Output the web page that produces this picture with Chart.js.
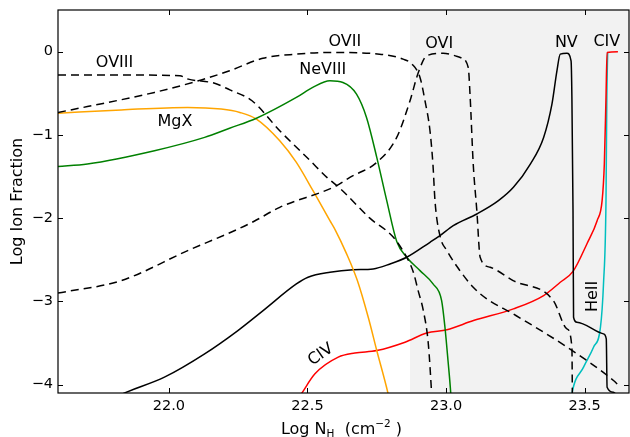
<!DOCTYPE html>
<html>
<head>
<meta charset="utf-8">
<script src="https://cdn.jsdelivr.net/npm/chart.js@4.4.1/dist/chart.umd.min.js"></script>
<style>
  html, body { margin: 0; padding: 0; background: #fff; }
  #wrap { width: 630px; height: 437px; }
</style>
</head>
<body>
<div id="wrap"><canvas id="myChart" width="630" height="437"></canvas></div>
<script>
// axis ticks
const xTicks = [22.0, 22.5, 23.0, 23.5];
const yTicks = [-4, -3, -2, -1, 0];

// ion fraction curves (x = log N_H, y = log ion fraction)
const oviiiX = [21.60, 21.82, 22.04, 22.07, 22.165, 22.22, 22.30, 22.40, 22.51, 22.57, 22.62, 22.725, 22.81, 22.858, 22.882, 22.90, 22.918, 22.936, 22.948, 22.952];
const oviiiY = [-0.28, -0.28, -0.29, -0.33, -0.38, -0.46, -0.59, -0.95, -1.31, -1.51, -1.65, -2.00, -2.23, -2.47, -2.65, -2.88, -3.11, -3.51, -4.11, -4.35];

const oviiX = [21.60, 21.706, 21.948, 22.117, 22.219, 22.339, 22.46, 22.58, 22.76, 22.845, 22.877, 22.906, 22.924, 22.942, 22.953, 22.96, 22.978, 23.003, 23.05, 23.098, 23.147, 23.242, 23.437, 23.604, 23.62];
const oviiY = [-0.73, -0.66, -0.49, -0.34, -0.23, -0.08, -0.03, -0.01, -0.03, -0.09, -0.15, -0.31, -0.59, -0.95, -1.37, -1.79, -2.21, -2.39, -2.63, -2.83, -2.97, -3.15, -3.55, -3.95, -4.00];

const oviX = [21.60, 21.828, 22.068, 22.23, 22.306, 22.40, 22.605, 22.653, 22.75, 22.822, 22.87, 22.899, 22.93, 22.989, 23.051, 23.08, 23.087, 23.098, 23.111, 23.123, 23.159, 23.242, 23.387, 23.436, 23.454, 23.456];
const oviY = [-2.90, -2.75, -2.39, -2.16, -2.04, -1.87, -1.61, -1.51, -1.33, -1.03, -0.59, -0.26, -0.05, -0.02, -0.07, -0.19, -0.55, -1.35, -1.91, -2.47, -2.59, -2.75, -2.99, -3.33, -3.55, -4.30];

const neviiiX = [21.60, 21.706, 21.948, 22.129, 22.219, 22.316, 22.46, 22.519, 22.581, 22.628, 22.677, 22.713, 22.75, 22.786, 22.822, 22.858, 22.906, 22.953, 22.984, 22.996, 23.007, 23.017, 23.02];
const neviiiY = [-1.38, -1.35, -1.19, -1.03, -0.92, -0.80, -0.55, -0.43, -0.35, -0.37, -0.51, -0.79, -1.27, -1.79, -2.28, -2.47, -2.63, -2.79, -2.99, -3.31, -3.71, -4.11, -4.30];

const mgxX = [21.60, 21.828, 22.068, 22.189, 22.256, 22.316, 22.40, 22.46, 22.52, 22.581, 22.60, 22.64, 22.68, 22.72, 22.75, 22.791, 22.80];
const mgxY = [-0.74, -0.70, -0.67, -0.69, -0.73, -0.81, -1.07, -1.33, -1.67, -2.03, -2.14, -2.42, -2.75, -3.20, -3.59, -4.11, -4.25];

const nvX = [21.786, 21.833, 21.984, 22.129, 22.249, 22.34, 22.46, 22.502, 22.581, 22.665, 22.737, 22.798, 22.858, 22.942, 22.978, 23.026, 23.111, 23.189, 23.243, 23.304, 23.352, 23.382, 23.40, 23.412, 23.436, 23.451, 23.454, 23.458, 23.460, 23.472, 23.568, 23.578, 23.581, 23.604, 23.62];
const nvY = [-4.19, -4.11, -3.91, -3.63, -3.35, -3.11, -2.79, -2.71, -2.65, -2.62, -2.61, -2.55, -2.47, -2.29, -2.21, -2.09, -1.95, -1.79, -1.63, -1.35, -1.03, -0.63, -0.23, -0.03, -0.02, -0.11, -0.55, -1.91, -3.19, -3.25, -3.39, -3.45, -4.03, -4.09, -4.15];

const civX = [22.461, 22.478, 22.527, 22.611, 22.671, 22.75, 22.852, 22.93, 23.003, 23.099, 23.243, 23.352, 23.412, 23.458, 23.508, 23.545, 23.563, 23.571, 23.577, 23.581, 23.62];
const civY = [-4.19, -4.11, -3.87, -3.67, -3.62, -3.59, -3.49, -3.38, -3.34, -3.23, -3.09, -2.93, -2.77, -2.64, -2.31, -2.03, -1.79, -1.35, -0.55, -0.01, 0.0];

const heiiX = [23.449, 23.454, 23.496, 23.532, 23.557, 23.568, 23.577, 23.580, 23.583];
const heiiY = [-4.25, -4.11, -3.79, -3.55, -3.31, -2.79, -1.79, -0.55, -0.01];

// grey band starts here and runs to the right edge
const shadeStart = 22.87;

// curve names placed on the plot
const curveLabels = [
  { text: 'OVIII', x: 21.804, y: -0.14, rot: 0 },
  { text: 'MgX', x: 22.022, y: -0.84, rot: 0 },
  { text: 'NeVIII', x: 22.555, y: -0.22, rot: 0 },
  { text: 'OVII', x: 22.635, y: 0.12, rot: 0 },
  { text: 'OVI', x: 22.975, y: 0.09, rot: 0 },
  { text: 'NV', x: 23.434, y: 0.11, rot: 0 },
  { text: 'CIV', x: 23.580, y: 0.12, rot: 0 },
  { text: 'CIV', x: 22.548, y: -3.64, rot: -35 },
  { text: 'HeII', x: 23.531, y: -2.94, rot: -90 }
];

const FONT = "'DejaVu Sans', sans-serif";

function toPoints(xs, ys) {
  return xs.map((x, i) => ({ x: x, y: ys[i] }));
}

const series = [
  { name: 'OVIII', xs: oviiiX, ys: oviiiY, color: '#000000', dash: [8, 5] },
  { name: 'OVII', xs: oviiX, ys: oviiY, color: '#000000', dash: [8, 5] },
  { name: 'OVI', xs: oviX, ys: oviY, color: '#000000', dash: [8, 5] },
  { name: 'NeVIII', xs: neviiiX, ys: neviiiY, color: '#008000', dash: [] },
  { name: 'MgX', xs: mgxX, ys: mgxY, color: '#ffa500', dash: [] },
  { name: 'NV', xs: nvX, ys: nvY, color: '#000000', dash: [] },
  { name: 'CIV', xs: civX, ys: civY, color: '#ff0000', dash: [] },
  { name: 'HeII', xs: heiiX, ys: heiiY, color: '#00bfbf', dash: [] }
];

// grey band behind the curves
const shadePlugin = {
  id: 'shade',
  beforeDatasetsDraw(chart) {
    const { ctx, chartArea: a, scales: { x } } = chart;
    const left = x.getPixelForValue(shadeStart);
    ctx.save();
    ctx.fillStyle = '#f2f2f2';
    ctx.fillRect(left, a.top, a.right - left, a.bottom - a.top);
    ctx.restore();
  }
};

// inward ticks on all four sides, box, curve names, x title
const framePlugin = {
  id: 'frame',
  afterDraw(chart) {
    const { ctx, chartArea: a, scales: { x, y } } = chart;
    ctx.save();
    ctx.strokeStyle = '#000';
    ctx.lineWidth = 1;
    ctx.beginPath();
    xTicks.forEach(v => {
      const px = Math.round(x.getPixelForValue(v)) + 0.5;
      ctx.moveTo(px, a.bottom); ctx.lineTo(px, a.bottom - 5);
      ctx.moveTo(px, a.top); ctx.lineTo(px, a.top + 5);
    });
    yTicks.forEach(v => {
      const py = Math.round(y.getPixelForValue(v)) + 0.5;
      ctx.moveTo(a.left, py); ctx.lineTo(a.left + 5, py);
      ctx.moveTo(a.right, py); ctx.lineTo(a.right - 5, py);
    });
    ctx.stroke();
    ctx.lineWidth = 1.2;
    ctx.strokeRect(a.left, a.top, a.right - a.left, a.bottom - a.top);

    // curve names
    ctx.fillStyle = '#000';
    ctx.font = '16px ' + FONT;
    ctx.textAlign = 'center';
    ctx.textBaseline = 'middle';
    curveLabels.forEach(l => {
      ctx.save();
      ctx.translate(x.getPixelForValue(l.x), y.getPixelForValue(l.y));
      ctx.rotate(l.rot * Math.PI / 180);
      ctx.fillText(l.text, 0, 0);
      ctx.restore();
    });

    // x axis title with subscript and superscript
    const parts = [
      { t: 'Log N', size: 16, dy: 0 },
      { t: 'H', size: 10.5, dy: 3 },
      { t: '  (cm', size: 16, dy: 0 },
      { t: '\u22122', size: 10.5, dy: -7 },
      { t: ' )', size: 16, dy: 0 }
    ];
    ctx.textAlign = 'left';
    ctx.textBaseline = 'alphabetic';
    let total = 0;
    parts.forEach(p => {
      ctx.font = p.size + 'px ' + FONT;
      p.w = ctx.measureText(p.t).width;
      total += p.w;
    });
    let cx = (a.left + a.right) / 2 - total / 2 - 2;
    const base = a.bottom + 41;
    parts.forEach(p => {
      ctx.font = p.size + 'px ' + FONT;
      ctx.fillText(p.t, cx, base + p.dy);
      cx += p.w;
    });
    ctx.restore();
  }
};

const ctx = document.getElementById('myChart').getContext('2d');

new Chart(ctx, {
  type: 'scatter',
  data: {
    datasets: series.map(s => ({
      label: s.name,
      data: toPoints(s.xs, s.ys),
      showLine: true,
      borderColor: s.color,
      backgroundColor: s.color,
      borderWidth: 1.5,
      borderDash: s.dash,
      pointRadius: 0,
      pointHoverRadius: 0,
      cubicInterpolationMode: 'monotone',
      fill: false,
      clip: 0
    }))
  },
  options: {
    responsive: false,
    animation: false,
    layout: { padding: { top: 10, right: 1, left: 0, bottom: 0 } },
    plugins: {
      legend: { display: false },
      tooltip: { enabled: false }
    },
    scales: {
      x: {
        type: 'linear',
        min: 21.6,
        max: 23.66,
        afterBuildTicks: scale => { scale.ticks = xTicks.map(v => ({ value: v })); },
        afterFit: scale => { scale.height = 44; scale.paddingLeft = 0; scale.paddingRight = 0; },
        grid: { display: false, drawTicks: false },
        border: { display: false },
        ticks: {
          autoSkip: false,
          maxRotation: 0,
          padding: 5,
          color: '#000',
          font: { family: FONT, size: 14.5 },
          callback: v => v.toFixed(1)
        }
      },
      y: {
        type: 'linear',
        min: -4.1,
        max: 0.5,
        afterBuildTicks: scale => { scale.ticks = yTicks.map(v => ({ value: v })); },
        afterFit: scale => { scale.width = 58; scale.paddingTop = 0; scale.paddingBottom = 0; },
        grid: { display: false, drawTicks: false },
        border: { display: false },
        ticks: {
          autoSkip: false,
          padding: 5,
          color: '#000',
          font: { family: FONT, size: 14.5 },
          callback: v => (v < 0 ? '\u2212' + Math.abs(v) : String(v))
        },
        title: {
          display: true,
          text: 'Log Ion Fraction',
          color: '#000',
          font: { family: FONT, size: 16 },
          padding: { top: 8, bottom: 0 }
        }
      }
    }
  },
  plugins: [shadePlugin, framePlugin]
});
</script>
</body>
</html>
